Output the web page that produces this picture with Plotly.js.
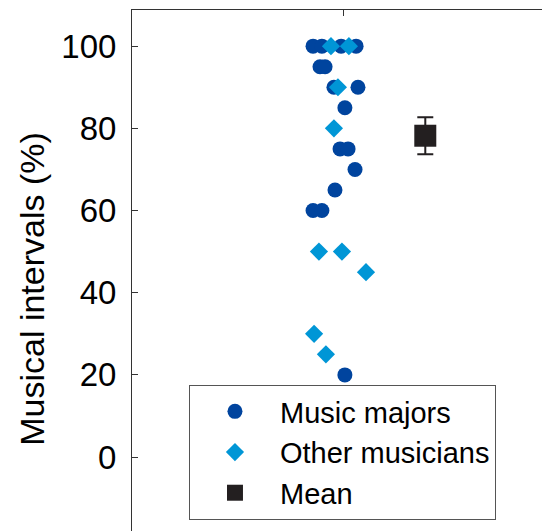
<!DOCTYPE html>
<html>
<head>
<meta charset="utf-8">
<script src="https://cdn.plot.ly/plotly-3.0.1.min.js"></script>
<style>
html,body{margin:0;padding:0;overflow:hidden;background:#fff;}
#chart{width:560px;height:580px;}
</style>
</head>
<body>
<div id="chart"></div>
<script>
// Music majors (circles): jittered x positions around category 1 and scores (%)
const majorsJitter = [0.858, 0.900, 0.991, 1.062, 0.891, 0.915, 0.957, 1.071, 1.009, 0.986, 1.024, 1.057, 0.962, 0.858, 0.900, 1.009];
const majorsScore  = [100, 100, 100, 100, 95, 95, 90, 90, 85, 75, 75, 70, 65, 60, 60, 20];

// Other musicians (diamonds)
const othersJitter = [0.943, 1.028, 0.976, 0.957, 0.886, 0.995, 1.109, 0.863, 0.919];
const othersScore  = [100, 100, 90, 80, 50, 50, 45, 30, 25];

// Mean with error bar
const meanX = [1.39];
const meanY = [78.2];
const meanErr = [4.5];

const yTicks = [0, 20, 40, 60, 80, 100];
const yTickText = ['0', '20', '40', '60', '80', '100'];

const FONT = 'Liberation Sans, Arial, Helvetica, sans-serif';

const traces = [
  {
    type: 'scatter', mode: 'markers', name: 'Music majors',
    x: majorsJitter, y: majorsScore,
    marker: {symbol: 'circle', size: 15, color: '#00449e'}
  },
  {
    type: 'scatter', mode: 'markers', name: 'Other musicians',
    x: othersJitter, y: othersScore,
    marker: {symbol: 'diamond', size: 14, color: '#0096d6'}
  },
  {
    type: 'scatter', mode: 'markers', name: 'Mean',
    x: meanX, y: meanY,
    marker: {symbol: 'square', size: 22, color: '#231f20'},
    error_y: {type: 'data', array: meanErr, visible: true, color: '#231f20', thickness: 2, width: 8}
  }
];

const layout = {
  width: 560, height: 580,
  margin: {l: 132, r: 6, t: 10, b: 12},
  paper_bgcolor: '#fff', plot_bgcolor: '#fff',
  showlegend: true,
  font: {family: FONT, color: '#000', size: 30},
  xaxis: {
    range: [0, 2], tickvals: [1], ticktext: [''],
    showgrid: false, zeroline: false,
    showline: true, linecolor: '#333', linewidth: 1, mirror: 'allticks',
    ticks: 'inside', ticklen: 6, tickcolor: '#333'
  },
  yaxis: {
    range: [-27, 108.8], tickvals: yTicks, ticktext: yTickText,
    showgrid: false, zeroline: false,
    showline: true, linecolor: '#333', linewidth: 1, mirror: true,
    ticks: 'inside', ticklen: 6, tickcolor: '#333',
    ticklabelstandoff: 8,
    tickfont: {family: FONT, size: 33, color: '#000'},
    title: {text: 'Musical intervals (%)', font: {family: FONT, size: 34, color: '#000'}, standoff: 6}
  },
  legend: {
    x: 0.135, y: 0.328, xanchor: 'left', yanchor: 'top',
    bgcolor: '#fff', bordercolor: '#555', borderwidth: 1,
    font: {family: FONT, size: 29, color: '#000'},
    itemwidth: 80
  }
};

Plotly.newPlot('chart', traces, layout, {displayModeBar: false, staticPlot: true});
</script>
</body>
</html>
